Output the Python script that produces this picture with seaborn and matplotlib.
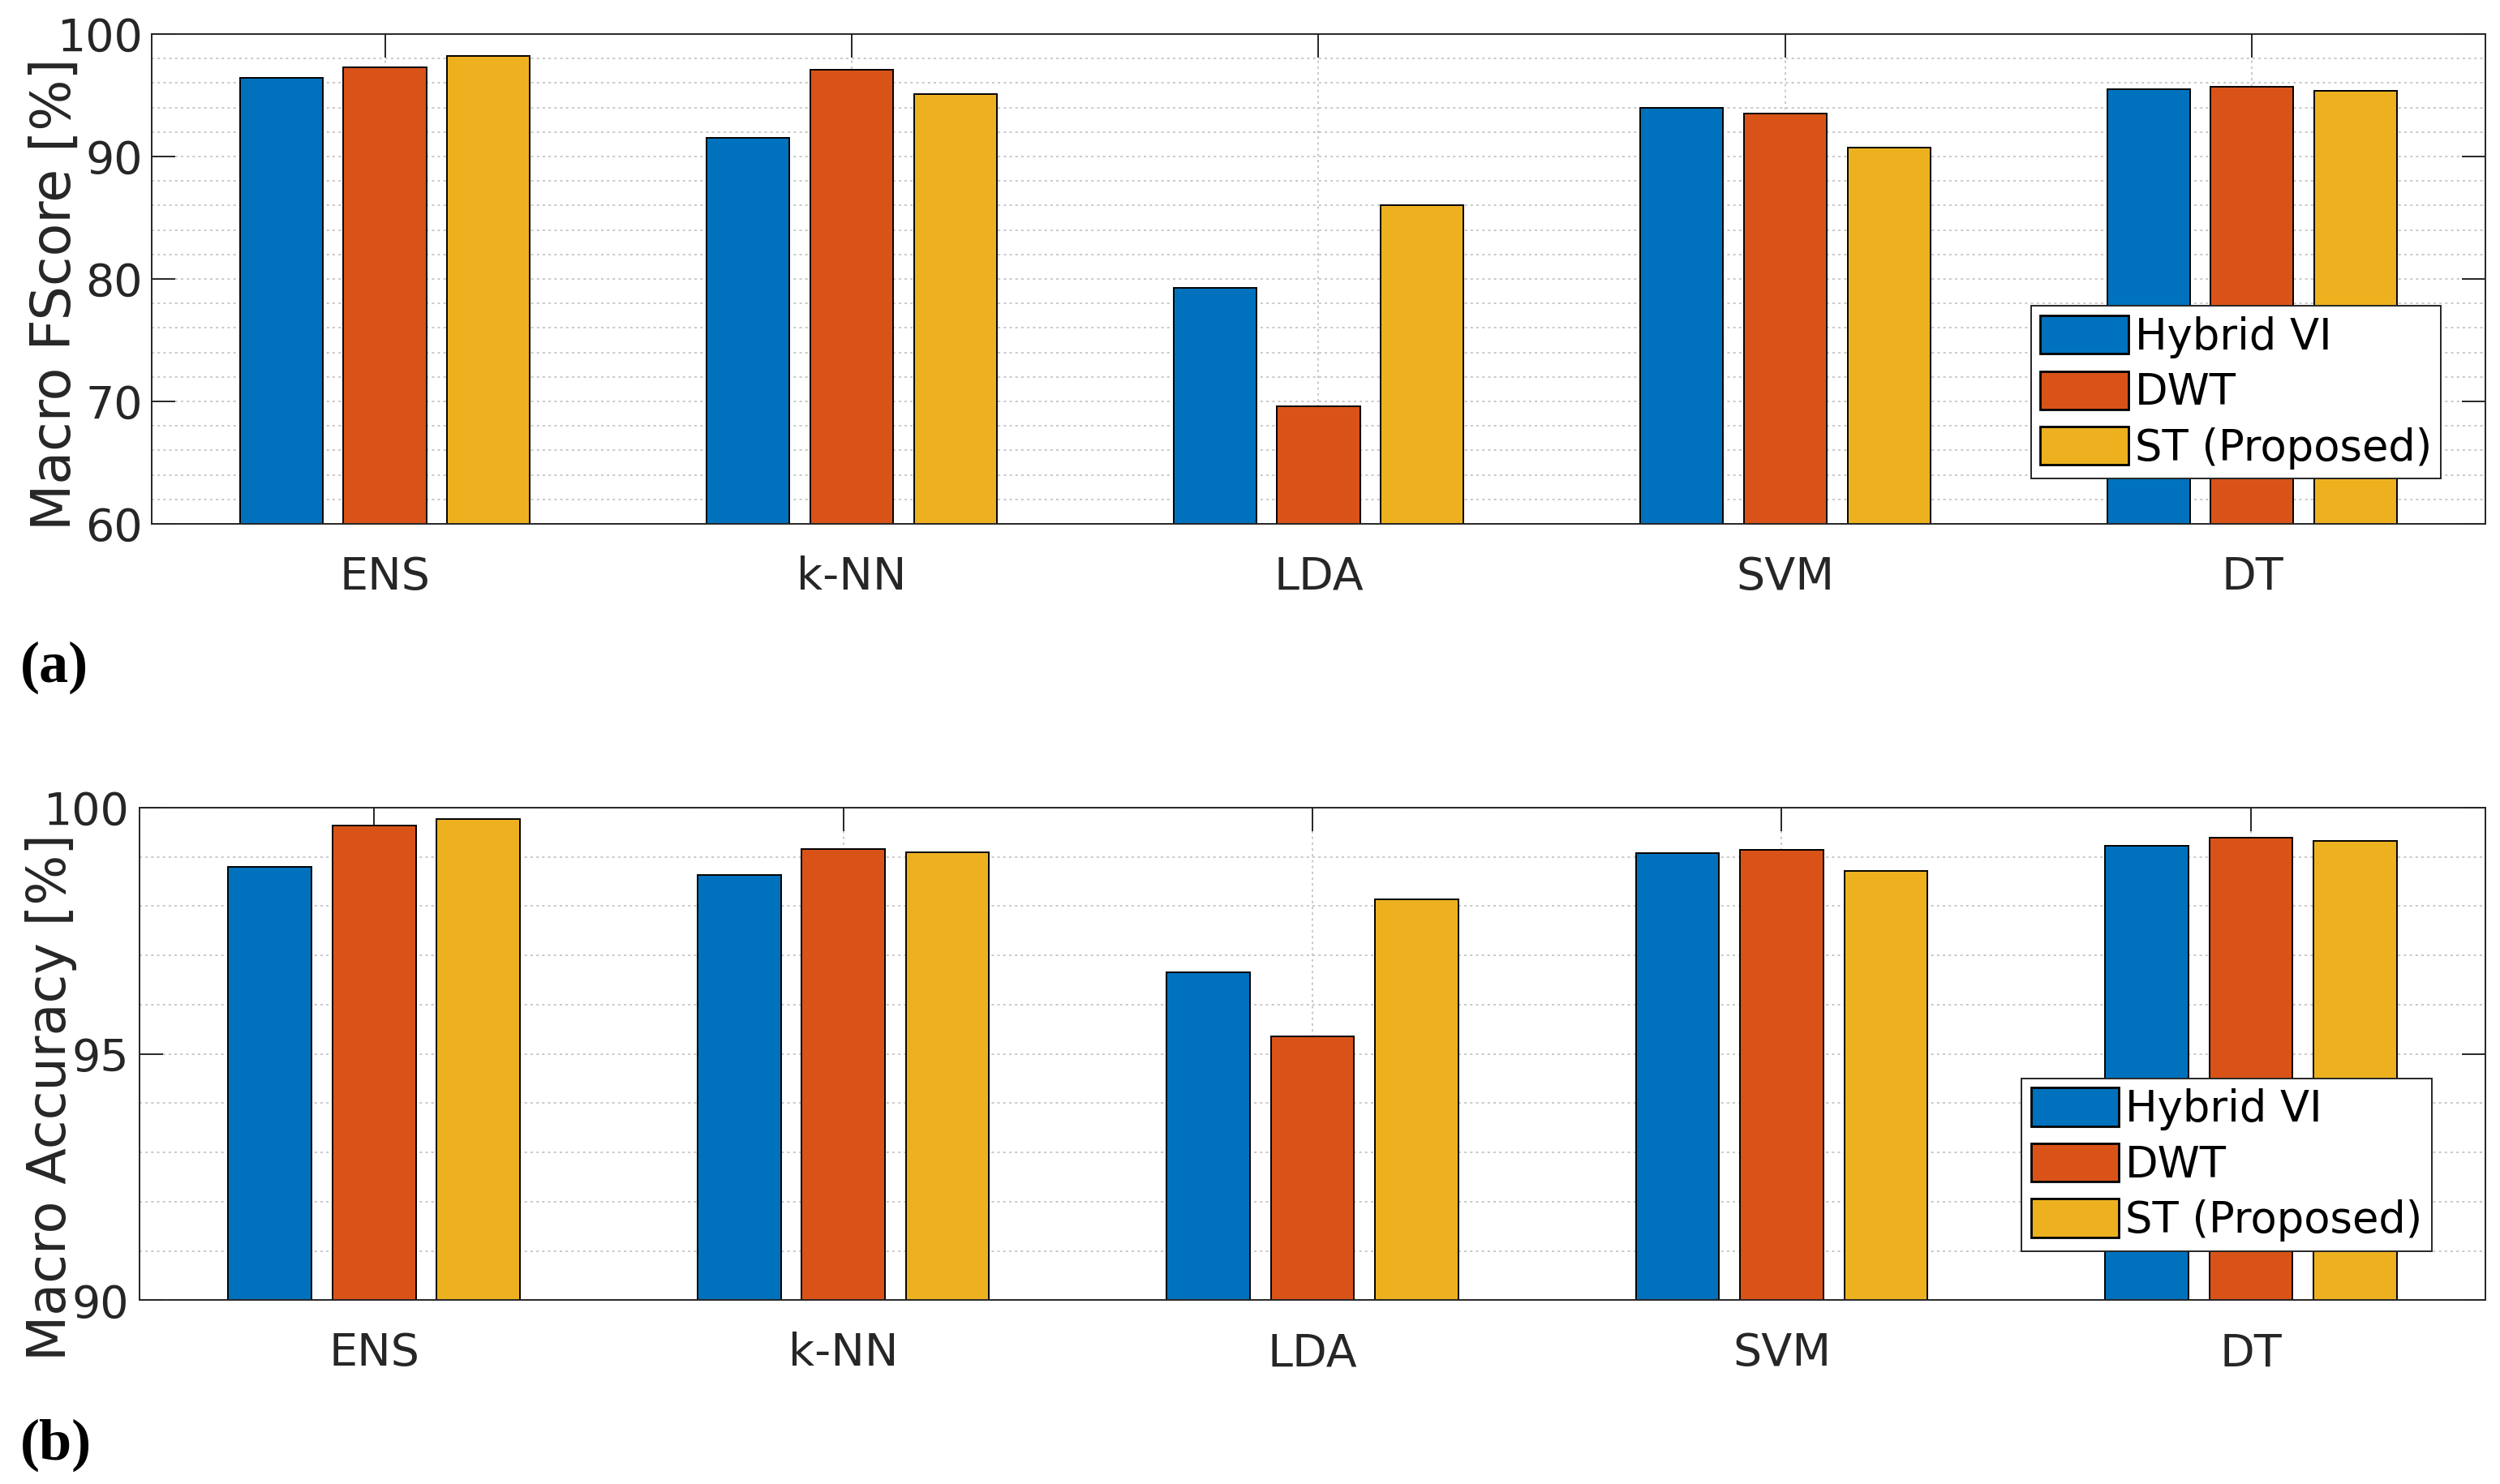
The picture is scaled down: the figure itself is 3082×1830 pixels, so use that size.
import numpy as np
import pandas as pd
import seaborn as sns
import matplotlib.pyplot as plt
from matplotlib.patches import Patch
from matplotlib.ticker import MultipleLocator

# values
classifiers = ["ENS", "k-NN", "LDA", "SVM", "DT"]
methods = ["Hybrid VI", "DWT", "ST (Proposed)"]

fscore_hybrid = [96.4, 91.5, 79.3, 94.0, 95.5]
fscore_dwt = [97.3, 97.1, 69.6, 93.5, 95.7]
fscore_st = [98.2, 95.1, 86.0, 90.7, 95.4]

acc_hybrid = [98.80, 98.64, 96.66, 99.07, 99.22]
acc_dwt = [99.64, 99.16, 95.35, 99.15, 99.39]
acc_st = [99.76, 99.09, 98.14, 98.72, 99.32]

colors = ["#0072BD", "#D95319", "#EDB120"]
axcol = "#262626"
gridcol = "#c8c8c8"


def long_df(a, b, c):
    rows = []
    for m, vals in zip(methods, [a, b, c]):
        for clf, v in zip(classifiers, vals):
            rows.append({"clf": clf, "method": m, "val": v})
    return pd.DataFrame(rows)


fs = long_df(fscore_hybrid, fscore_dwt, fscore_st)
acc = long_df(acc_hybrid, acc_dwt, acc_st)

plt.rcParams['font.family'] = ['DejaVu Sans']

fig = plt.figure(figsize=(15.41, 9.15), dpi=200)
ax1 = fig.add_axes([0.0606, 0.647, 0.9336, 0.330])
ax2 = fig.add_axes([0.0558, 0.1238, 0.9384, 0.332])


def draw(ax, df, ylim, major, minor, ylabel, lab_xy, ypad, leg_anchor, lab_size):
    ax.set_axisbelow(True)
    sns.barplot(data=df, x="clf", y="val", hue="method", order=classifiers,
                hue_order=methods, palette=colors, saturation=1,
                width=0.666, gap=0.2, edgecolor="black", linewidth=0.7,
                errorbar=None, legend=False, ax=ax)
    ax.set_xlim(-0.5, 4.5)
    ax.set_ylim(*ylim)
    ax.yaxis.set_major_locator(MultipleLocator(major))
    ax.yaxis.set_minor_locator(MultipleLocator(minor))
    ax.grid(True, which='major', axis='x', color=gridcol,
            linestyle=(0, (1.5, 2.2)), linewidth=0.7)
    ax.grid(True, which='both', axis='y', color=gridcol,
            linestyle=(0, (1.5, 2.2)), linewidth=0.7)
    for s in ax.spines.values():
        s.set_color(axcol)
        s.set_linewidth(0.7)
    ax.tick_params(which='major', direction='in', length=10.4, width=0.7,
                   color=axcol, labelcolor=axcol, labelsize=20,
                   top=True, right=True)
    ax.tick_params(which='minor', length=0)
    ax.tick_params(axis='x', pad=14)
    ax.tick_params(axis='y', pad=ypad)
    ax.set_xlabel("")
    ax.set_ylabel(ylabel, fontsize=lab_size, color=axcol)
    ax.yaxis.set_label_coords(*lab_xy)

    handles = [Patch(facecolor=c, edgecolor='black', linewidth=1.0) for c in colors]
    leg = ax.legend(handles, methods, loc='lower right', bbox_to_anchor=leg_anchor,
                    fontsize=19, handlelength=2.05, handleheight=1.0,
                    labelspacing=0.3, handletextpad=0.15, borderpad=0.22,
                    borderaxespad=0, frameon=True, fancybox=False,
                    edgecolor=axcol, framealpha=1)
    leg.get_frame().set_linewidth(0.7)
    for t in leg.get_texts():
        t.set_color('black')


draw(ax1, fs, (60, 100), 10, 2, "Macro FScore [%]", (-0.030, 0.469), 3.8,
     (0.981, 0.092), 24)
draw(ax2, acc, (90, 100), 5, 1, "Macro Accuracy [%]", (-0.0266, 0.412), 4.5,
     (0.977, 0.100), 23.5)

fig.text(0.008, 0.55, "(a)", fontfamily='Liberation Serif', fontweight='bold',
         fontsize=26, va='center', ha='left')
fig.text(0.008, 0.026, "(b)", fontfamily='Liberation Serif', fontweight='bold',
         fontsize=26, va='center', ha='left')

fig.savefig("out.png", dpi=200)
